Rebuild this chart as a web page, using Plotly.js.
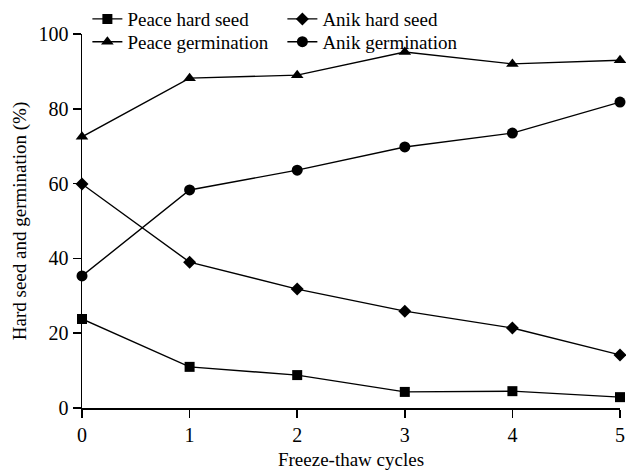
<!DOCTYPE html>
<html><head><meta charset="utf-8">
<script src="https://cdn.plot.ly/plotly-3.0.1.min.js"></script>
<style>html,body{margin:0;padding:0;background:#fff}</style>
</head><body><div id="chart" style="width:626px;height:470px"></div>
<script>
const cycles = [0, 1, 2, 3, 4, 5];
const peaceHard = [23.8, 11.0, 8.8, 4.3, 4.5, 2.9];
const anikHard = [59.9, 39.0, 31.8, 25.9, 21.4, 14.2];
const peaceGerm = [72.5, 88.2, 89.0, 95.2, 92.0, 93.0];
const anikGerm = [35.3, 58.3, 63.6, 69.8, 73.5, 81.8];
const xTicks = ['0','1','2','3','4','5'];

const font = 'Liberation Serif, Times New Roman, serif';
function tr(name, y, sym, size, leg){
  return {x: cycles, y: y, name: name, type: 'scatter', mode: 'lines+markers',
    line: {color: '#000', width: 1.4}, marker: {symbol: sym, size: size, color: '#000'},
    cliponaxis: false, legend: leg};
}
const data = [
  tr('Peace hard seed', peaceHard, 'square', 10, 'legend'),
  tr('Anik hard seed', anikHard, 'diamond', 10, 'legend'),
  tr('Peace germination', peaceGerm, 'triangle-up', 11, 'legend2'),
  tr('Anik germination', anikGerm, 'circle', 11, 'legend2')
];
const legBase = {orientation: 'h', xanchor: 'left', yanchor: 'middle',
  bgcolor: 'rgba(0,0,0,0)', entrywidth: 150, tracegroupgap: 0,
  font: {family: font, size: 19, color: '#000'}};
const layout = {
  width: 626, height: 470,
  margin: {l: 82, r: 6, t: 34, b: 62, autoexpand: false},
  paper_bgcolor: '#fff', plot_bgcolor: '#fff',
  font: {family: font, color: '#000', size: 19},
  showlegend: true,
  legend: Object.assign({}, legBase, {x: 0.01, y: 1.040}),
  legend2: Object.assign({}, legBase, {x: 0.01, y: 0.979}),
  xaxis: {range: [0, 5], tickvals: cycles, ticktext: xTicks, showgrid: false, zeroline: false,
    showline: true, linecolor: '#000', linewidth: 1.5, ticks: 'outside', ticklen: 8, tickwidth: 1.5,
    tickcolor: '#000', tickfont: {size: 20},
    title: {text: 'Freeze-thaw cycles', font: {size: 19}, standoff: 16}},
  yaxis: {range: [0, 100], tickvals: [0, 20, 40, 60, 80, 100], showgrid: false, zeroline: false,
    showline: true, linecolor: '#000', linewidth: 1.5, ticks: 'outside', ticklen: 8, tickwidth: 1.5,
    tickcolor: '#000', tickfont: {size: 20},
    title: {text: 'Hard seed and germination (%)', font: {size: 19}, standoff: 7}}
};
Plotly.newPlot('chart', data, layout, {displayModeBar: false, staticPlot: true});
</script></body></html>
